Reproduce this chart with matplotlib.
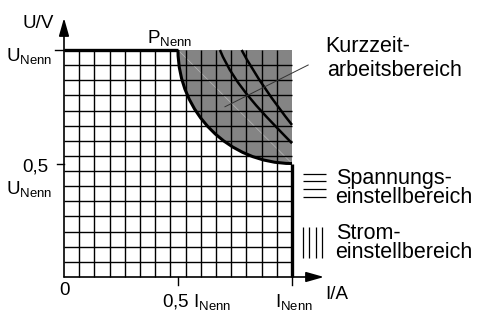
import matplotlib
matplotlib.use('Agg')
import matplotlib.pyplot as plt
from matplotlib.path import Path
from matplotlib.patches import PathPatch
import numpy as np

plt.rcParams['font.family'] = ['Liberation Sans', 'DejaVu Sans']
plt.rcParams['mathtext.fontset'] = 'custom'
plt.rcParams['mathtext.rm'] = 'Liberation Sans'
plt.rcParams['mathtext.it'] = 'Liberation Sans:italic'

# grid (relative units: I/I_Nenn, U/U_Nenn)
n_cells = 15
# constant power limit (quarter arc, bezier control points)
power_I = [0.5, 0.5, 0.724, 1.0]
power_U = [1.0, 0.724, 0.5, 0.5]
# short-time operating curves (bezier control points)
short1_I = [0.684, 0.749, 0.880, 1.0]
short1_U = [1.0, 0.840, 0.714, 0.589]
short2_I = [0.779, 0.840, 0.919, 1.0]
short2_U = [1.0, 0.886, 0.773, 0.670]
# leader line to "Kurzzeit-arbeitsbereich"
leader_I = [0.706, 1.071]
leader_U = [0.750, 0.934]

fig = plt.figure(figsize=(4.83, 3.14), dpi=100)
ax = fig.add_axes([0, 0, 1, 1])
ax.set_xlim(-64/228, 419/228)
ax.set_ylim(-37/227, 277/227)
ax.set_axis_off()

def bez(xs, ys):
    return Path(list(zip(xs, ys)), [Path.MOVETO, Path.CURVE4, Path.CURVE4, Path.CURVE4])

# gray short-time area
verts = list(zip(power_I, power_U)) + [(1.0, 1.0), (power_I[0], power_U[0])]
codes = [Path.MOVETO, Path.CURVE4, Path.CURVE4, Path.CURVE4, Path.LINETO, Path.CLOSEPOLY]
ax.add_patch(PathPatch(Path(verts, codes), facecolor='#848484', edgecolor='none', zorder=1))
ax.plot([power_I[0], power_I[-1]], [power_U[0], power_U[-1]], color='#b8b8b8', lw=0.5, zorder=1.5)

# grid
ticks = np.arange(n_cells) / n_cells
ax.vlines(ticks[1:], 0, 1, color='k', lw=1.0, zorder=2)
ax.hlines(ticks[1:], 0, 1, color='k', lw=1.0, zorder=2)

# limit lines
ax.plot([0, power_I[0]], [1, 1], color='k', lw=2.4, zorder=3, solid_capstyle='butt')
ax.plot([1, 1], [0, power_U[-1]], color='k', lw=2.4, zorder=3, solid_capstyle='butt')
ax.add_patch(PathPatch(bez(power_I, power_U), facecolor='none', edgecolor='k', lw=2.2, zorder=3))
ax.add_patch(PathPatch(bez(short1_I, short1_U), facecolor='none', edgecolor='k', lw=1.8, zorder=3))
ax.add_patch(PathPatch(bez(short2_I, short2_U), facecolor='none', edgecolor='k', lw=1.8, zorder=3))
ax.plot(leader_I, leader_U, color='#333333', lw=0.7, zorder=4)

# axes with arrows
arr = dict(arrowstyle='-|>,head_length=0.6,head_width=0.17', mutation_scale=18,
           color='k', lw=1.2, shrinkA=0, shrinkB=0)
ax.annotate('', xy=(0, 259/227), xytext=(0, 0), arrowprops=arr, zorder=5)
ax.annotate('', xy=(260/228, 0), xytext=(0, 0), arrowprops=arr, zorder=5)
ax.plot([-9/228, 0], [1, 1], color='k', lw=1.0)
ax.plot([-7/228, 0], [0.5, 0.5], color='k', lw=1.0)
ax.plot([0.5, 0.5], [0, -8/227], color='k', lw=1.0)
ax.plot([1, 1], [0, -8/227], color='k', lw=1.0)

fs = 13.5
ax.text(-0.044, 1.097, 'U/V', fontsize=fs, ha='right', va='baseline')
ax.text(-0.053, 0.952, r'U$_\mathrm{Nenn}$', fontsize=fs, ha='right', va='baseline')
ax.text(0.364, 1.031, r'P$_\mathrm{Nenn}$', fontsize=fs, ha='left', va='baseline')
ax.text(-0.070, 0.463, '0,5', fontsize=fs, ha='right', va='baseline')
ax.text(-0.053, 0.366, r'U$_\mathrm{Nenn}$', fontsize=fs, ha='right', va='baseline')
ax.text(0.0, -0.079, '0', fontsize=fs, ha='center', va='baseline')
ax.text(0.43, -0.132, r'0,5 I$_\mathrm{Nenn}$', fontsize=fs, ha='left', va='baseline')
ax.text(0.925, -0.132, r'I$_\mathrm{Nenn}$', fontsize=fs, ha='left', va='baseline')
ax.text(1.145, -0.097, 'I/A', fontsize=fs, ha='left', va='baseline')

fr = 15.5
ax.text(261/228, 225/227, 'Kurzzeit-', fontsize=fr, ha='left', va='baseline')
ax.text(263/228, 201/227, 'arbeitsbereich', fontsize=fr, ha='left', va='baseline')
ax.text(272/228, 93/227, 'Spannungs-', fontsize=fr, ha='left', va='baseline')
ax.text(271/228, 74/227, 'einstellbereich', fontsize=fr, ha='left', va='baseline')
ax.text(272/228, 38/227, 'Strom-', fontsize=fr, ha='left', va='baseline')
ax.text(271/228, 19/227, 'einstellbereich', fontsize=fr, ha='left', va='baseline')

# legend hatch symbols
ax.hlines(np.array([103, 96, 88, 80.5]) / 227, 238.5/228, 262/228, color='k', lw=0.9)
ax.vlines(np.array([238.5, 245, 251.5, 258]) / 228, 19/227, 50/227, color='k', lw=0.9)

fig.savefig('out.png', dpi=100)
